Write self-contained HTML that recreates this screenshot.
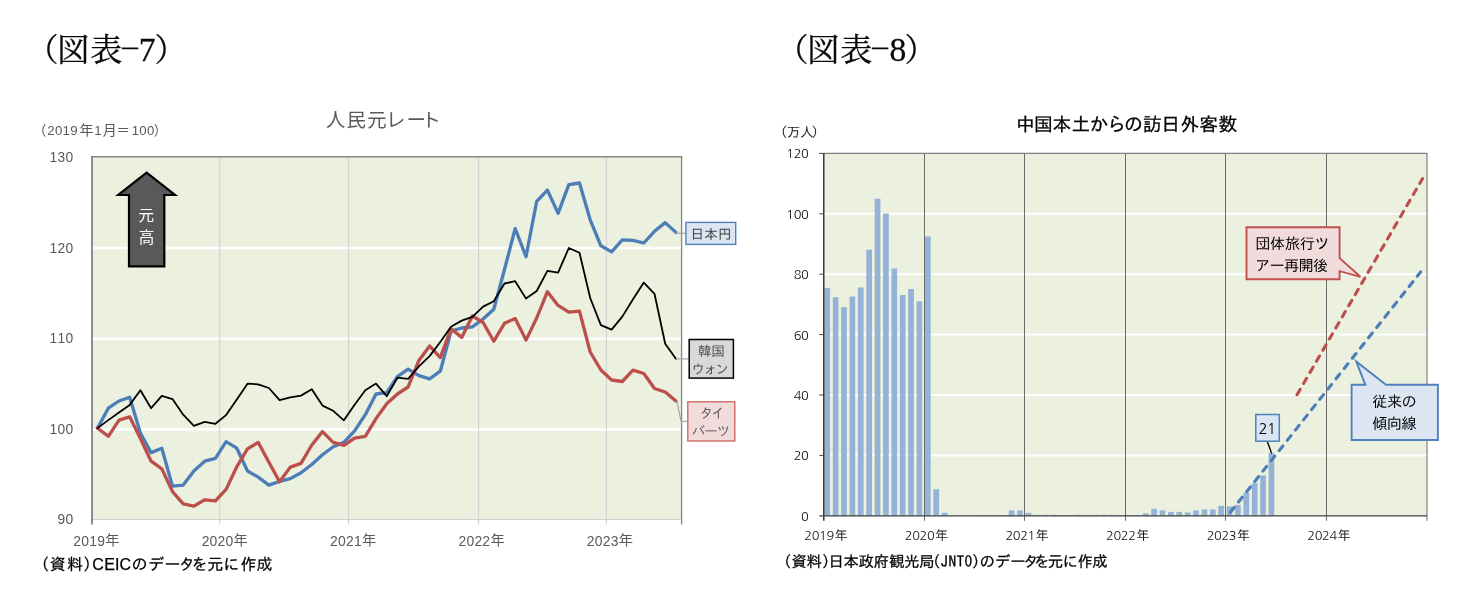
<!DOCTYPE html>
<html lang="ja">
<head>
<meta charset="utf-8">
<title>図表-7 人民元レート / 図表-8 中国本土からの訪日外客数</title>
<style>
html,body{margin:0;padding:0;background:#ffffff;}
body{width:1477px;height:615px;overflow:hidden;}
svg text{white-space:pre;}
</style>
</head>
<body>
<svg width="1477" height="615" viewBox="0 0 1477 615" style="display:block" role="img" aria-label="図表-7 人民元レート、図表-8 中国本土からの訪日外客数">
<rect x="0" y="0" width="1477" height="615" fill="#ffffff"/>
<text font-family='"Noto Serif CJK JP", "Noto Serif CJK SC", "Liberation Serif", serif' font-size="32" fill="#0a0a0a" stroke="#0a0a0a" stroke-width="0.3"><tspan x="26.48 57.31 90.16" y="61.00">（図表</tspan><tspan x="120.78" y="59.60">−</tspan><tspan x="138.85" y="61.00" font-size="33.6" font-family='"Liberation Serif", "Noto Serif CJK JP", serif'>7</tspan><tspan x="154.53" y="61.00">）</tspan></text>
<text font-family='"Noto Serif CJK JP", "Noto Serif CJK SC", "Liberation Serif", serif' font-size="32" fill="#0a0a0a" stroke="#0a0a0a" stroke-width="0.3"><tspan x="776.48 807.31 840.15" y="61.00">（図表</tspan><tspan x="870.77" y="59.60">−</tspan><tspan x="889.48" y="61.00" font-size="33.6" font-family='"Liberation Serif", "Noto Serif CJK JP", serif'>8</tspan><tspan x="904.52" y="61.00">）</tspan></text>
<rect x="92.0" y="156.8" width="589.6" height="362.7" fill="#EBF1DE"/>
<line x1="92.0" x2="681.6" y1="248.0" y2="248.0" stroke="#ffffff" stroke-width="2.6"/>
<line x1="92.0" x2="681.6" y1="338.8" y2="338.8" stroke="#ffffff" stroke-width="2.6"/>
<line x1="92.0" x2="681.6" y1="429.4" y2="429.4" stroke="#ffffff" stroke-width="2.6"/>
<line x1="219.7" x2="219.7" y1="156.8" y2="524.5" stroke="#d2d2d2" stroke-width="1.1"/>
<line x1="348.6" x2="348.6" y1="156.8" y2="524.5" stroke="#d2d2d2" stroke-width="1.1"/>
<line x1="478.6" x2="478.6" y1="156.8" y2="524.5" stroke="#d2d2d2" stroke-width="1.1"/>
<line x1="606.4" x2="606.4" y1="156.8" y2="524.5" stroke="#d2d2d2" stroke-width="1.1"/>
<line x1="92.0" x2="681.6" y1="519.5" y2="519.5" stroke="#d0d0d0" stroke-width="1.2"/>
<line x1="91.2" x2="682.2" y1="156.8" y2="156.8" stroke="#868686" stroke-width="1.5"/>
<line x1="681.6" x2="681.6" y1="156.8" y2="524.5" stroke="#868686" stroke-width="1.3"/>
<line x1="92.0" x2="92.0" y1="156.3" y2="524.5" stroke="#7a7a7a" stroke-width="1.7"/>
<polyline points="97.5,428.1 108.3,408.2 119.0,401.0 129.7,397.3 140.4,433.1 151.1,452.6 161.8,448.2 172.5,486.2 183.2,485.1 193.9,471.0 204.7,461.2 215.4,458.4 226.1,441.7 236.8,448.2 247.5,471.0 258.2,477.1 268.9,485.1 279.6,481.4 290.3,478.6 301.0,472.7 311.8,464.5 322.5,454.7 333.2,446.7 343.9,442.4 354.6,430.9 365.3,414.7 376.0,394.0 386.7,392.6 397.4,376.7 408.1,369.1 418.9,375.6 429.6,378.8 440.3,371.2 451.0,331.2 461.7,328.0 472.4,326.8 483.1,319.0 493.8,309.2 504.5,269.5 515.2,228.5 526.0,256.7 536.7,201.4 547.4,190.1 558.1,213.3 568.8,184.7 579.5,183.0 590.2,219.8 600.9,245.8 611.6,251.9 622.3,239.8 633.0,240.4 643.8,243.0 654.5,231.3 665.2,222.6 675.9,232.4" fill="none" stroke="#4C7DB8" stroke-width="3.3" stroke-linejoin="round" stroke-linecap="round"/>
<polyline points="97.5,428.1 108.3,436.3 119.0,420.1 129.7,416.8 140.4,438.5 151.1,461.2 161.8,468.8 172.5,491.6 183.2,503.9 193.9,506.1 204.7,499.8 215.4,500.9 226.1,489.4 236.8,466.7 247.5,448.9 258.2,442.4 268.9,462.3 279.6,481.8 290.3,467.1 301.0,463.4 311.8,445.0 322.5,431.6 333.2,442.4 343.9,445.4 354.6,438.1 365.3,436.3 376.0,418.6 386.7,403.7 397.4,394.0 408.1,387.0 418.9,360.4 429.6,345.9 440.3,357.6 451.0,328.7 461.7,337.4 472.4,316.0 483.1,322.5 493.8,341.2 504.5,323.3 515.2,318.6 526.0,340.1 536.7,318.0 547.4,291.7 558.1,305.4 568.8,312.2 579.5,311.2 590.2,352.0 600.9,370.0 611.6,380.0 622.3,381.5 633.0,370.1 643.8,373.5 654.5,388.5 665.2,392.0 675.9,401.1" fill="none" stroke="#BC4E4B" stroke-width="3.3" stroke-linejoin="round" stroke-linecap="round"/>
<polyline points="97.5,428.1 108.3,420.1 119.0,412.5 129.7,404.9 140.4,390.2 151.1,408.2 161.8,395.8 172.5,399.1 183.2,414.7 193.9,425.9 204.7,421.8 215.4,423.8 226.1,415.1 236.8,399.5 247.5,383.7 258.2,384.3 268.9,388.0 279.6,400.1 290.3,397.3 301.0,395.6 311.8,389.3 322.5,405.6 333.2,410.8 343.9,420.3 354.6,404.8 365.3,390.2 376.0,383.6 386.7,396.2 397.4,377.7 408.1,378.8 418.9,366.3 429.6,356.1 440.3,342.0 451.0,326.8 461.7,320.6 472.4,316.8 483.1,306.6 493.8,301.3 504.5,283.5 515.2,281.2 526.0,298.6 536.7,291.0 547.4,270.9 558.1,272.7 568.8,248.0 579.5,252.8 590.2,298.0 600.9,325.2 611.6,329.6 622.3,316.6 633.0,299.2 643.8,282.6 654.5,293.8 665.2,343.7 675.9,358.8" fill="none" stroke="#000000" stroke-width="1.8" stroke-linejoin="round" stroke-linecap="round"/>
<path d="M146.6,172.6 L175,195 L164.3,195 L164.3,266.3 L129,266.3 L129,195 L118.2,195 Z" fill="#595959" stroke="#000" stroke-width="2.2" stroke-linejoin="miter" stroke-miterlimit="10"/>
<text font-family='"Noto Sans CJK JP", "Liberation Sans", sans-serif' font-size="15.6" fill="#ffffff"><tspan x="138.52" y="221.20">元</tspan></text>
<text font-family='"Noto Sans CJK JP", "Liberation Sans", sans-serif' font-size="15.6" fill="#ffffff"><tspan x="138.65" y="243.40">高</tspan></text>
<polyline points="676,232.5 680,233.3 685.5,233.3" fill="none" stroke="#a6a6a6" stroke-width="1.2"/>
<rect x="685.9" y="222.4" width="49.8" height="22" fill="#DCE6F2" stroke="#4F81BD" stroke-width="1.4"/>
<polyline points="675.9,358.9 688.5,358.9" fill="none" stroke="#a6a6a6" stroke-width="1.2"/>
<rect x="689.2" y="339.5" width="44.2" height="38.6" fill="#D9D9D9" stroke="#000" stroke-width="1.5"/>
<polyline points="676.8,400.6 681.1,421.3 687,421.3" fill="none" stroke="#a6a6a6" stroke-width="1.2"/>
<rect x="687.8" y="401.8" width="47" height="39.2" fill="#F2DCDB" stroke="#C9605D" stroke-width="1.3"/>
<text font-family='"IPAGothic", "Noto Sans CJK JP", sans-serif' font-size="13.6" fill="#404040"><tspan x="690.40 704.15 717.90" y="238.60">日本円</tspan></text>
<text font-family='"IPAGothic", "Noto Sans CJK JP", sans-serif' font-size="13.6" fill="#505050"><tspan x="698.00 711.25" y="356.20">韓国</tspan></text>
<text font-family='"IPAGothic", "Noto Sans CJK JP", sans-serif' font-size="13.6" fill="#505050"><tspan x="691.45 703.38 715.30" y="373.80">ウォン</tspan></text>
<text font-family='"IPAGothic", "Noto Sans CJK JP", sans-serif' font-size="13.6" fill="#666666"><tspan x="699.65 711.25" y="418.20">タイ</tspan></text>
<text font-family='"IPAGothic", "Noto Sans CJK JP", sans-serif' font-size="13.6" fill="#666666"><tspan x="691.70 704.20 716.70" y="435.80">バーツ</tspan></text>
<text font-family='"Noto Sans CJK JP", "Liberation Sans", sans-serif' font-size="19.4" fill="#595959"><tspan x="326.10 346.62 367.35 386.12 406.45 421.62" y="127.00">人民元レート</tspan></text>
<text font-family='"Liberation Sans", "Noto Sans CJK JP", sans-serif' font-size="13.2" fill="#595959"><tspan x="32.95" y="135.20" font-size="13.4" font-family='"Noto Sans CJK JP", "Liberation Sans", sans-serif'>（</tspan><tspan x="47.25 54.89 62.52 70.16" y="135.20">2019</tspan><tspan x="79.57" y="135.20" font-size="14" font-family='"Noto Sans CJK JP", "Liberation Sans", sans-serif'>年</tspan><tspan x="94.18" y="135.20">1</tspan><tspan x="102.75" y="135.20" font-size="14" font-family='"Noto Sans CJK JP", "Liberation Sans", sans-serif'>月</tspan><tspan x="116.58" y="135.20" font-size="13.4" font-family='"Noto Sans CJK JP", "Liberation Sans", sans-serif'>＝</tspan><tspan x="131.70 139.34 146.97" y="135.20">100</tspan><tspan x="153.78" y="135.20" font-size="13.4" font-family='"Noto Sans CJK JP", "Liberation Sans", sans-serif'>）</tspan></text>
<text font-family='"Liberation Sans", "Noto Sans CJK JP", sans-serif' font-size="13.8" fill="#595959"><tspan x="49.54 57.49 65.45" y="162.00">130</tspan></text>
<text font-family='"Liberation Sans", "Noto Sans CJK JP", sans-serif' font-size="13.8" fill="#595959"><tspan x="49.54 57.49 65.45" y="252.60">120</tspan></text>
<text font-family='"Liberation Sans", "Noto Sans CJK JP", sans-serif' font-size="13.8" fill="#595959"><tspan x="49.54 57.49 65.45" y="343.20">110</tspan></text>
<text font-family='"Liberation Sans", "Noto Sans CJK JP", sans-serif' font-size="13.8" fill="#595959"><tspan x="49.54 57.49 65.45" y="433.80">100</tspan></text>
<text font-family='"Liberation Sans", "Noto Sans CJK JP", sans-serif' font-size="13.8" fill="#595959"><tspan x="57.49 65.45" y="524.40">90</tspan></text>
<text font-family='"Liberation Sans", "Noto Sans CJK JP", sans-serif' font-size="13.9" fill="#595959"><tspan x="73.25 81.22 89.18 97.15" y="545.80">2019</tspan><tspan x="105.18" y="545.40" font-size="14.2" font-family='"Noto Sans CJK JP", "Liberation Sans", sans-serif'>年</tspan></text>
<text font-family='"Liberation Sans", "Noto Sans CJK JP", sans-serif' font-size="13.9" fill="#595959"><tspan x="201.65 209.62 217.58 225.55" y="545.80">2020</tspan><tspan x="233.58" y="545.40" font-size="14.2" font-family='"Noto Sans CJK JP", "Liberation Sans", sans-serif'>年</tspan></text>
<text font-family='"Liberation Sans", "Noto Sans CJK JP", sans-serif' font-size="13.9" fill="#595959"><tspan x="330.05 338.02 345.98 353.95" y="545.80">2021</tspan><tspan x="361.98" y="545.40" font-size="14.2" font-family='"Noto Sans CJK JP", "Liberation Sans", sans-serif'>年</tspan></text>
<text font-family='"Liberation Sans", "Noto Sans CJK JP", sans-serif' font-size="13.9" fill="#595959"><tspan x="458.45 466.42 474.38 482.35" y="545.80">2022</tspan><tspan x="490.38" y="545.40" font-size="14.2" font-family='"Noto Sans CJK JP", "Liberation Sans", sans-serif'>年</tspan></text>
<text font-family='"Liberation Sans", "Noto Sans CJK JP", sans-serif' font-size="13.9" fill="#595959"><tspan x="586.85 594.82 602.78 610.75" y="545.80">2023</tspan><tspan x="618.78" y="545.40" font-size="14.2" font-family='"Noto Sans CJK JP", "Liberation Sans", sans-serif'>年</tspan></text>
<text font-family='"IPAGothic", "Noto Sans CJK JP", sans-serif' font-size="16" fill="#000" stroke="#000" stroke-width="0.25"><tspan x="33.33 49.68 66.90 83.32" y="570.30">（資料）</tspan><tspan x="92.35 104.16 115.05 119.60" y="570.30" font-family='"Liberation Sans", "Noto Sans CJK JP", sans-serif'>CEIC</tspan><tspan x="131.55 148.35 164.45 178.95 191.57 207.35 223.32 240.50 256.40" y="570.30">のデータを元に作成</tspan></text>
<rect x="823.8" y="153.3" width="603.2" height="362.5" fill="#EBF1DE"/>
<line x1="823.8" x2="1427.0" y1="455.4" y2="455.4" stroke="#ffffff" stroke-width="2"/>
<line x1="823.8" x2="1427.0" y1="395.0" y2="395.0" stroke="#ffffff" stroke-width="2"/>
<line x1="823.8" x2="1427.0" y1="334.6" y2="334.6" stroke="#ffffff" stroke-width="2"/>
<line x1="823.8" x2="1427.0" y1="274.2" y2="274.2" stroke="#ffffff" stroke-width="2"/>
<line x1="823.8" x2="1427.0" y1="213.8" y2="213.8" stroke="#ffffff" stroke-width="2"/>
<rect x="824.40" y="288.09" width="5.7" height="227.71" fill="#95B3D7"/>
<rect x="832.78" y="297.15" width="5.7" height="218.65" fill="#95B3D7"/>
<rect x="841.16" y="307.12" width="5.7" height="208.68" fill="#95B3D7"/>
<rect x="849.54" y="296.55" width="5.7" height="219.25" fill="#95B3D7"/>
<rect x="857.92" y="287.49" width="5.7" height="228.31" fill="#95B3D7"/>
<rect x="866.30" y="249.74" width="5.7" height="266.06" fill="#95B3D7"/>
<rect x="874.69" y="198.70" width="5.7" height="317.10" fill="#95B3D7"/>
<rect x="883.07" y="213.50" width="5.7" height="302.30" fill="#95B3D7"/>
<rect x="891.45" y="268.46" width="5.7" height="247.34" fill="#95B3D7"/>
<rect x="899.83" y="295.04" width="5.7" height="220.76" fill="#95B3D7"/>
<rect x="908.21" y="289.00" width="5.7" height="226.80" fill="#95B3D7"/>
<rect x="916.59" y="301.38" width="5.7" height="214.42" fill="#95B3D7"/>
<rect x="924.97" y="236.45" width="5.7" height="279.35" fill="#95B3D7"/>
<rect x="933.35" y="489.22" width="5.7" height="26.58" fill="#95B3D7"/>
<rect x="941.73" y="512.78" width="5.7" height="3.02" fill="#95B3D7"/>
<rect x="975.26" y="515.50" width="5.7" height="0.30" fill="#95B3D7"/>
<rect x="983.64" y="515.50" width="5.7" height="0.30" fill="#95B3D7"/>
<rect x="992.02" y="515.50" width="5.7" height="0.30" fill="#95B3D7"/>
<rect x="1000.40" y="515.20" width="5.7" height="0.60" fill="#95B3D7"/>
<rect x="1008.78" y="510.36" width="5.7" height="5.44" fill="#95B3D7"/>
<rect x="1017.16" y="510.36" width="5.7" height="5.44" fill="#95B3D7"/>
<rect x="1025.54" y="512.78" width="5.7" height="3.02" fill="#95B3D7"/>
<rect x="1033.92" y="514.89" width="5.7" height="0.91" fill="#95B3D7"/>
<rect x="1042.31" y="514.89" width="5.7" height="0.91" fill="#95B3D7"/>
<rect x="1050.69" y="514.89" width="5.7" height="0.91" fill="#95B3D7"/>
<rect x="1059.07" y="515.20" width="5.7" height="0.60" fill="#95B3D7"/>
<rect x="1067.45" y="515.20" width="5.7" height="0.60" fill="#95B3D7"/>
<rect x="1075.83" y="514.89" width="5.7" height="0.91" fill="#95B3D7"/>
<rect x="1084.21" y="515.20" width="5.7" height="0.60" fill="#95B3D7"/>
<rect x="1092.59" y="514.89" width="5.7" height="0.91" fill="#95B3D7"/>
<rect x="1100.97" y="514.89" width="5.7" height="0.91" fill="#95B3D7"/>
<rect x="1109.35" y="514.89" width="5.7" height="0.91" fill="#95B3D7"/>
<rect x="1117.74" y="515.20" width="5.7" height="0.60" fill="#95B3D7"/>
<rect x="1126.12" y="515.20" width="5.7" height="0.60" fill="#95B3D7"/>
<rect x="1134.50" y="515.20" width="5.7" height="0.60" fill="#95B3D7"/>
<rect x="1142.88" y="513.38" width="5.7" height="2.42" fill="#95B3D7"/>
<rect x="1151.26" y="508.85" width="5.7" height="6.95" fill="#95B3D7"/>
<rect x="1159.64" y="510.36" width="5.7" height="5.44" fill="#95B3D7"/>
<rect x="1168.02" y="511.87" width="5.7" height="3.93" fill="#95B3D7"/>
<rect x="1176.40" y="511.87" width="5.7" height="3.93" fill="#95B3D7"/>
<rect x="1184.78" y="512.48" width="5.7" height="3.32" fill="#95B3D7"/>
<rect x="1193.16" y="510.36" width="5.7" height="5.44" fill="#95B3D7"/>
<rect x="1201.55" y="509.46" width="5.7" height="6.34" fill="#95B3D7"/>
<rect x="1209.93" y="509.46" width="5.7" height="6.34" fill="#95B3D7"/>
<rect x="1218.31" y="505.83" width="5.7" height="9.97" fill="#95B3D7"/>
<rect x="1226.69" y="506.44" width="5.7" height="9.36" fill="#95B3D7"/>
<rect x="1235.07" y="504.93" width="5.7" height="10.87" fill="#95B3D7"/>
<rect x="1243.45" y="492.85" width="5.7" height="22.95" fill="#95B3D7"/>
<rect x="1251.83" y="483.18" width="5.7" height="32.62" fill="#95B3D7"/>
<rect x="1260.21" y="475.33" width="5.7" height="40.47" fill="#95B3D7"/>
<rect x="1268.59" y="452.98" width="5.7" height="62.82" fill="#95B3D7"/>
<line x1="924.5" x2="924.5" y1="153.3" y2="520.8" stroke="#6a6a6a" stroke-width="1"/>
<line x1="1024.5" x2="1024.5" y1="153.3" y2="520.8" stroke="#6a6a6a" stroke-width="1"/>
<line x1="1125.5" x2="1125.5" y1="153.3" y2="520.8" stroke="#6a6a6a" stroke-width="1"/>
<line x1="1225.5" x2="1225.5" y1="153.3" y2="520.8" stroke="#6a6a6a" stroke-width="1"/>
<line x1="1326.5" x2="1326.5" y1="153.3" y2="520.8" stroke="#6a6a6a" stroke-width="1"/>
<line x1="823.8" x2="1427.0" y1="153.3" y2="153.3" stroke="#808080" stroke-width="1.2"/>
<line x1="1427.0" x2="1427.0" y1="153.3" y2="520.8" stroke="#808080" stroke-width="1.2"/>
<line x1="823.8" x2="823.8" y1="153.3" y2="520.8" stroke="#1a1a1a" stroke-width="1.3"/>
<line x1="819.3" x2="1427.0" y1="515.8" y2="515.8" stroke="#404040" stroke-width="1.3"/>
<line x1="819.3" x2="823.8" y1="455.4" y2="455.4" stroke="#404040" stroke-width="1"/>
<line x1="819.3" x2="823.8" y1="395.0" y2="395.0" stroke="#404040" stroke-width="1"/>
<line x1="819.3" x2="823.8" y1="334.6" y2="334.6" stroke="#404040" stroke-width="1"/>
<line x1="819.3" x2="823.8" y1="274.2" y2="274.2" stroke="#404040" stroke-width="1"/>
<line x1="819.3" x2="823.8" y1="213.8" y2="213.8" stroke="#404040" stroke-width="1"/>
<line x1="819.3" x2="823.8" y1="153.4" y2="153.4" stroke="#404040" stroke-width="1"/>
<line x1="1230.4" y1="512.2" x2="1420.6" y2="272.0" stroke="#4C7DB8" stroke-width="3.1" stroke-dasharray="6.0,7.09" stroke-linecap="round"/>
<line x1="1297.1" y1="394.6" x2="1422.5" y2="178.7" stroke="#BC4E4B" stroke-width="3.1" stroke-dasharray="6.0,6.86" stroke-linecap="round"/>
<line x1="1267.3" y1="441.6" x2="1271.7" y2="453.4" stroke="#000" stroke-width="1.3"/>
<rect x="1255.8" y="414.5" width="23.5" height="26.7" fill="#DCE6F2" stroke="#4F81BD" stroke-width="1.5"/>
<text font-family='"NanumGothic", "Liberation Sans", sans-serif' font-size="15" fill="#000"><tspan x="1258.40 1267.10" y="433.50">21</tspan></text>
<path d="M1246.5,227.3 L1339.6,227.3 L1339.6,258.2 L1360.4,276.8 L1339.6,271.2 L1339.6,279.3 L1246.5,279.3 Z" fill="#F2DCDB" stroke="#BE504D" stroke-width="1.9" stroke-linejoin="miter"/>
<text font-family='"IPAGothic", "Noto Sans CJK JP", sans-serif' font-size="15.2" fill="#000"><tspan x="1255.30 1270.09 1284.88 1299.66 1314.45" y="249.20">団体旅行ツ</tspan></text>
<text font-family='"IPAGothic", "Noto Sans CJK JP", sans-serif' font-size="15.2" fill="#000"><tspan x="1255.00 1269.49 1283.97 1298.46 1312.95" y="270.80">アー再開後</tspan></text>
<path d="M1351.6,384.8 L1365.4,384.8 L1356.2,361.4 L1386,384.8 L1437.9,384.8 L1437.9,440 L1351.6,440 Z" fill="#DCE6F2" stroke="#4F81BD" stroke-width="1.9" stroke-linejoin="miter"/>
<text font-family='"IPAGothic", "Noto Sans CJK JP", sans-serif' font-size="15.2" fill="#000"><tspan x="1372.30 1386.88 1401.45" y="407.40">従来の</tspan></text>
<text font-family='"IPAGothic", "Noto Sans CJK JP", sans-serif' font-size="15.2" fill="#000"><tspan x="1372.30 1386.82 1401.35" y="429.40">傾向線</tspan></text>
<text font-family='"IPAGothic", "Noto Sans CJK JP", sans-serif' font-size="18.8" fill="#000" stroke="#000" stroke-width="0.3"><tspan x="1015.92 1033.97 1052.55 1071.50 1089.53 1106.90 1123.97 1142.92 1161.22 1180.40 1199.17 1218.55" y="130.90">中国本土からの訪日外客数</tspan></text>
<text font-family='"IPAGothic", "Noto Sans CJK JP", sans-serif' font-size="13.6" fill="#1a1a1a"><tspan x="773.75 786.80 799.92 811.52" y="137.00">（万人）</tspan></text>
<text font-family='"NanumGothic", "Liberation Sans", sans-serif' font-size="12.8" fill="#101010"><tspan x="801.10" y="520.70">0</tspan></text>
<text font-family='"NanumGothic", "Liberation Sans", sans-serif' font-size="12.8" fill="#101010"><tspan x="793.64 801.10" y="460.30">20</tspan></text>
<text font-family='"NanumGothic", "Liberation Sans", sans-serif' font-size="12.8" fill="#101010"><tspan x="793.64 801.10" y="399.90">40</tspan></text>
<text font-family='"NanumGothic", "Liberation Sans", sans-serif' font-size="12.8" fill="#101010"><tspan x="793.64 801.10" y="339.50">60</tspan></text>
<text font-family='"NanumGothic", "Liberation Sans", sans-serif' font-size="12.8" fill="#101010"><tspan x="793.64 801.10" y="279.10">80</tspan></text>
<text font-family='"NanumGothic", "Liberation Sans", sans-serif' font-size="12.8" fill="#101010"><tspan x="786.19 793.65 801.10" y="218.70">100</tspan></text>
<text font-family='"NanumGothic", "Liberation Sans", sans-serif' font-size="12.8" fill="#101010"><tspan x="786.19 793.65 801.10" y="158.30">120</tspan></text>
<text font-family='"IPAGothic", "Noto Sans CJK JP", sans-serif' font-size="13.2" fill="#1a1a1a"><tspan x="804.25 811.63 819.00 826.38" y="540.40" font-size="12.8" font-family='"NanumGothic", "Liberation Sans", sans-serif'>2019</tspan><tspan x="834.40" y="540.40">年</tspan></text>
<text font-family='"IPAGothic", "Noto Sans CJK JP", sans-serif' font-size="13.2" fill="#1a1a1a"><tspan x="904.85 912.23 919.60 926.98" y="540.40" font-size="12.8" font-family='"NanumGothic", "Liberation Sans", sans-serif'>2020</tspan><tspan x="935.00" y="540.40">年</tspan></text>
<text font-family='"IPAGothic", "Noto Sans CJK JP", sans-serif' font-size="13.2" fill="#1a1a1a"><tspan x="1005.45 1012.83 1020.20 1027.58" y="540.40" font-size="12.8" font-family='"NanumGothic", "Liberation Sans", sans-serif'>2021</tspan><tspan x="1035.60" y="540.40">年</tspan></text>
<text font-family='"IPAGothic", "Noto Sans CJK JP", sans-serif' font-size="13.2" fill="#1a1a1a"><tspan x="1106.05 1113.43 1120.80 1128.18" y="540.40" font-size="12.8" font-family='"NanumGothic", "Liberation Sans", sans-serif'>2022</tspan><tspan x="1136.20" y="540.40">年</tspan></text>
<text font-family='"IPAGothic", "Noto Sans CJK JP", sans-serif' font-size="13.2" fill="#1a1a1a"><tspan x="1206.65 1214.03 1221.40 1228.78" y="540.40" font-size="12.8" font-family='"NanumGothic", "Liberation Sans", sans-serif'>2023</tspan><tspan x="1236.80" y="540.40">年</tspan></text>
<text font-family='"IPAGothic", "Noto Sans CJK JP", sans-serif' font-size="13.2" fill="#1a1a1a"><tspan x="1307.25 1314.63 1322.00 1329.38" y="540.40" font-size="12.8" font-family='"NanumGothic", "Liberation Sans", sans-serif'>2024</tspan><tspan x="1337.40" y="540.40">年</tspan></text>
<text font-family='"IPAGothic", "Noto Sans CJK JP", sans-serif' font-size="15.4" fill="#000" stroke="#000" stroke-width="0.25"><tspan x="775.98 791.50 806.40 822.05 828.58 843.60 858.55 873.58 889.23 903.90 918.98 925.12 940.55 948.53 956.52 964.50 972.10 979.50 994.98 1010.25 1023.35 1033.95 1047.70 1062.53 1077.60 1092.18" y="567.30">（資料）日本政府観光局（JNTO）のデータを元に作成</tspan></text>
</svg>
</body>
</html>
